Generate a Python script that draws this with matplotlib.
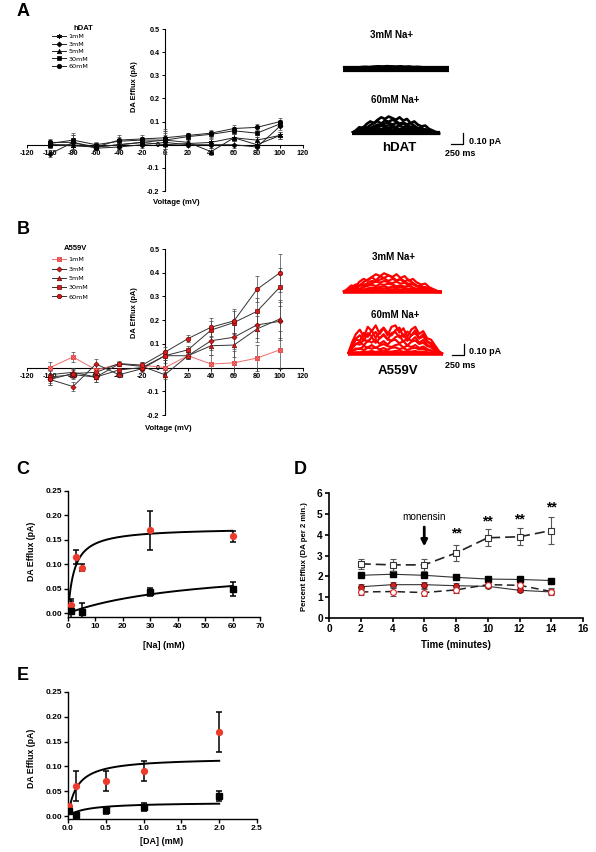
import numpy as np
import matplotlib.pyplot as plt
from matplotlib.lines import Line2D
from matplotlib.legend_handler import HandlerTuple

plt.rcParams['font.family'] = ['Liberation Sans', 'DejaVu Sans']

W, H = 596, 852

# ---- A / B : I-V relations (DA efflux vs voltage)
voltage = [-100, -80, -60, -40, -20, 0, 20, 40, 60, 80, 100]
na_labels = ['1mM', '3mM', '5mM', '30mM', '60mM']

hdat_1 = [0.0, -0.005, -0.01, 0.0, 0.01, 0.0, 0.005, 0.01, 0.03, 0.0, 0.04]
hdat_3 = [-0.04, 0.01, -0.015, -0.01, 0.0, 0.01, 0.0, 0.0, 0.0, -0.01, 0.08]
hdat_5 = [0.0, 0.0, -0.01, 0.0, 0.01, 0.02, 0.01, -0.03, 0.03, 0.02, 0.04]
hdat_30 = [0.005, 0.02, 0.0, 0.015, 0.02, 0.02, 0.035, 0.045, 0.06, 0.05, 0.09]
hdat_60 = [0.01, 0.01, -0.01, 0.02, 0.025, 0.03, 0.04, 0.05, 0.07, 0.075, 0.10]
hdat_err = [0.015, 0.03, 0.01, 0.02, 0.015, 0.04, 0.01, 0.015, 0.015, 0.015, 0.015]

a559v_1 = [0.0, 0.045, -0.01, 0.015, 0.01, 0.0, 0.05, 0.015, 0.02, 0.04, 0.075]
a559v_3 = [-0.05, -0.08, 0.015, -0.03, -0.005, 0.05, 0.05, 0.113, 0.128, 0.18, 0.195]
a559v_5 = [-0.03, -0.02, -0.04, 0.015, 0.005, -0.03, 0.05, 0.092, 0.095, 0.163, 0.205]
a559v_30 = [-0.04, -0.03, -0.04, -0.01, 0.0, 0.05, 0.075, 0.158, 0.19, 0.237, 0.34]
a559v_60 = [-0.05, -0.025, -0.02, 0.017, 0.01, 0.065, 0.122, 0.17, 0.197, 0.33, 0.40]
a559v_err = [0.025, 0.02, 0.02, 0.01, 0.015, 0.02, 0.015, 0.04, 0.05, 0.055, 0.08]

# ---- C : efflux vs [Na]
na_conc = [1, 3, 5, 30, 60]
na_red = [0.017, 0.115, 0.093, 0.17, 0.157]
na_red_err = [0.012, 0.015, 0.007, 0.04, 0.012]
na_conc_k = [1, 5, 30, 60]
na_black = [0.005, 0.003, 0.044, 0.05]
na_black_err = [0.02, 0.017, 0.008, 0.014]
na_fit_red = (0.175, 2.3)    # Vmax, Km
na_fit_black = (0.10, 48.0)

# ---- D : percent efflux vs time
time_min = [2, 4, 6, 8, 10, 12, 14]
open_sq = [2.6, 2.55, 2.55, 3.12, 3.85, 3.9, 4.2]
open_sq_err = [0.25, 0.3, 0.3, 0.4, 0.4, 0.4, 0.65]
fill_sq = [2.05, 2.1, 2.05, 1.95, 1.87, 1.85, 1.8]
fill_sq_err = [0.05, 0.05, 0.05, 0.05, 0.05, 0.05, 0.05]
red_fill = [1.5, 1.6, 1.6, 1.55, 1.52, 1.33, 1.25]
red_fill_err = [0.15, 0.15, 0.15, 0.15, 0.1, 0.1, 0.12]
red_open = [1.25, 1.27, 1.22, 1.35, 1.6, 1.57, 1.27]
red_open_err = [0.15, 0.2, 0.15, 0.15, 0.1, 0.1, 0.15]
star_t = [8, 10, 12, 14]
star_y = [4.08, 4.65, 4.75, 5.3]

# ---- E : efflux vs [DA]
da_conc = [0.01, 0.1, 0.5, 1.0, 2.0]
da_red = [0.02, 0.06, 0.07, 0.09, 0.17]
da_red_err = [0.004, 0.03, 0.02, 0.02, 0.04]
da_black = [0.01, 0.003, 0.012, 0.018, 0.04]
da_black_err = [0.004, 0.002, 0.007, 0.008, 0.01]
da_fit_red = (0.118, 0.12)
da_fit_black = (0.028, 0.25)

# ---- current traces (normalised sweep shapes + sweep amplitudes in pA)
prof1 = [0, .15, .35, .3, .55, .7, .6, .8, .95, .85, 1.0, .9, .8, .95, .75, .85, .6, .7, .5, .4, .45, .25, .15, .05, 0]
prof2 = [0, .1, .2, .45, .4, .6, .75, .9, .7, .95, .85, 1.0, .9, .7, .8, .65, .75, .55, .35, .4, .2, .25, .1, 0, 0]
prof3 = [0, .05, .3, .25, .5, .45, .65, .8, .75, .9, 1.0, .8, .95, .85, .9, .7, .6, .65, .45, .3, .35, .15, .1, .05, 0]
prof_box = [0, .4, .7, .85, .6, .95, .8, 1.0, .7, .9, .65, .95, 1.0, .75, .9, .6, .85, .95, .7, .8, .55, .5, .3, .1, 0]
prof_box2 = [0, .3, .55, .5, .8, .65, .9, .6, .85, 1.0, .8, .7, .9, 1.0, .65, .85, .7, .9, .6, .75, .5, .35, .2, .05, 0]
hdat_3na_amps = [0.02, 0.012, -0.01, 0.0, 0.006, -0.005]
hdat_60na_amps = [0.15, 0.12, 0.095, 0.07, 0.05, 0.03, 0.015, 0.0]
a559v_3na_amps = [0.17, 0.15, 0.125, 0.1, 0.075, 0.05, 0.03, 0.01, 0.0]
a559v_60na_amps = [0.26, 0.24, 0.2, 0.17, 0.13, 0.09, 0.06, 0.03, 0.01, 0.0]

fig = plt.figure(figsize=(W / 100, H / 100), dpi=100)


def px_axes(x0, y0, x1, y1):
    return fig.add_axes([x0 / W, 1 - y1 / H, (x1 - x0) / W, (y1 - y0) / H])


def px_text(x, y, s, **kw):
    kw.setdefault('ha', 'center')
    kw.setdefault('va', 'center')
    fig.text(x / W, 1 - y / H, s, **kw)


# ================= A and B =================
def iv_panel(top, bottom, series, err, red):
    ax = px_axes(27, top, 303, bottom)
    ax.set_xlim(-120, 120)
    ax.set_ylim(-0.2, 0.5)
    for s in ['top', 'right']:
        ax.spines[s].set_visible(False)
    for s in ['left', 'bottom']:
        ax.spines[s].set_position(('data', 0))
        ax.spines[s].set_linewidth(0.8)
    ax.set_xticks(range(-120, 121, 20))
    ax.set_xticklabels([str(v) for v in range(-120, 121, 20)])
    yt = [-0.2, -0.1, 0, 0.1, 0.2, 0.3, 0.4, 0.5]
    ax.set_yticks(yt)
    ax.set_yticklabels(['-0.2', '-0.1', '0', '0.1', '0.2', '0.3', '0.4', '0.5'])
    ax.tick_params(labelsize=5.2, length=2.5, width=0.7, pad=1.5)
    for lab in ax.get_xticklabels() + ax.get_yticklabels():
        lab.set_fontweight('bold')
    markers = [(6, 2, 0), 'D', '^', 's', 'o']
    sizes = [3.5, 2.6, 3.2, 3.0, 3.2]
    handles = []
    for i, vals in enumerate(series):
        if red:
            if i == 0:
                lc, mfc, mec = '#f06a6a', '#ffb0b0', '#e03030'
                mk = 's'
            else:
                lc, mfc, mec = '#333333', '#d41c1c', '#7a0000'
                mk = markers[i]
        else:
            lc, mfc, mec = '#222222', 'black', 'black'
            mk = markers[i]
        ax.errorbar(voltage, vals, yerr=err, color=lc, lw=0.7, ecolor='#444444',
                    elinewidth=0.5, capsize=1.5, capthick=0.5, marker=mk,
                    ms=sizes[i], mfc=mfc, mec=mec, mew=0.5, zorder=3)
        h = Line2D([], [], color=lc, lw=0.7, marker=mk, ms=sizes[i], mfc=mfc, mec=mec, mew=0.5)
        if red and i == 0:
            ax.plot(voltage, vals, ls='none', marker='x', ms=2.5, mec='#e03030', mew=0.6, zorder=4)
            h = (h, Line2D([], [], ls='none', marker='x', ms=2.5, mec='#e03030', mew=0.6))
        handles.append(h)
    return ax, handles


axA, hA = iv_panel(29, 191, [hdat_1, hdat_3, hdat_5, hdat_30, hdat_60], hdat_err, False)
axB, hB = iv_panel(249, 415, [a559v_1, a559v_3, a559v_5, a559v_30, a559v_60], a559v_err, True)

for ax, handles, y0, sp in [(axA, hA, 34, 0.3), (axB, hB, 257, 0.6)]:
    fig.legend(handles, na_labels, loc='upper left', bbox_to_anchor=(52 / W, 1 - y0 / H),
               frameon=False, handlelength=2.2, handletextpad=0.4,
               labelspacing=sp, borderpad=0, borderaxespad=0,
               prop={'family': 'DejaVu Sans', 'size': 4.6},
               handler_map={tuple: HandlerTuple(ndivide=1)})

px_text(83, 29, 'hDAT', fontsize=5.5, fontweight='bold')
px_text(76, 249, 'A559V', fontsize=5.5, fontweight='bold')
px_text(135, 87, 'DA Efflux (pA)', rotation=90, fontsize=5.4, fontweight='bold')
px_text(135, 313, 'DA Efflux (pA)', rotation=90, fontsize=5.4, fontweight='bold')
px_text(176, 202, 'Voltage (mV)', fontsize=5.6, fontweight='bold')
px_text(168, 428, 'Voltage (mV)', fontsize=5.6, fontweight='bold')

# ---- traces
PX_MS = 0.047
PX_PA = 110.0


def trace_axes(x0, base, top, bottom, left=330, right=510):
    ax = px_axes(left, top, right, bottom)
    ax.set_xlim((left - x0) / PX_MS, (right - x0) / PX_MS)
    ax.set_ylim((base - bottom) / PX_PA, (base - top) / PX_PA)
    ax.axis('off')
    return ax


def draw_sweeps(ax, amps, profiles, dur, color, lw):
    for i, a in enumerate(amps):
        p = np.array(profiles[i % len(profiles)])
        t = np.linspace(0, dur, len(p))
        ax.plot(t, a * p, color=color, lw=lw, solid_joinstyle='round',
                solid_capstyle='butt')
    ax.plot([0, dur], [0, 0], color=color, lw=lw * 1.6, solid_capstyle='butt')


def scale_bar(ax, x_ms, y_pa, color='black'):
    ax.plot([x_ms - 250, x_ms, x_ms], [y_pa, y_pa, y_pa + 0.10], color=color, lw=0.9)


ta1 = trace_axes(343, 69, 50, 85)
draw_sweeps(ta1, hdat_3na_amps, [prof1, prof2, prof3], 2250, 'black', 2.8)
ta2 = trace_axes(352, 133, 105, 150)
draw_sweeps(ta2, hdat_60na_amps, [prof1, prof2, prof3], 1870, 'black', 1.9)
scale_bar(ta2, (463 - 352) / PX_MS, (133 - 144) / PX_PA)

tb1 = trace_axes(343, 292, 265, 300)
draw_sweeps(tb1, a559v_3na_amps, [prof1, prof2, prof3], 2100, 'red', 1.6)
tb2 = trace_axes(348, 354, 320, 362)
draw_sweeps(tb2, a559v_60na_amps, [prof_box, prof_box2], 2020, 'red', 1.6)
scale_bar(tb2, (464 - 348) / PX_MS, (354 - 355) / PX_PA)

px_text(391, 35, '3mM Na+', fontsize=7, fontweight='bold')
px_text(395, 100, '60mM Na+', fontsize=7, fontweight='bold')
px_text(399, 148, 'hDAT', fontsize=9.5, fontweight='bold')
px_text(469, 141, '0.10 pA', fontsize=6.5, fontweight='bold', ha='left')
px_text(445, 153, '250 ms', fontsize=6.5, fontweight='bold', ha='left')
px_text(393, 257, '3mM Na+', fontsize=7, fontweight='bold')
px_text(395, 315, '60mM Na+', fontsize=7, fontweight='bold')
px_text(398, 371, 'A559V', fontsize=9.5, fontweight='bold')
px_text(469, 352, '0.10 pA', fontsize=6.5, fontweight='bold', ha='left')
px_text(445, 366, '250 ms', fontsize=6.5, fontweight='bold', ha='left')


# ================= Prism style panels =================
def prism(ax, lw=1.0):
    for s in ['top', 'right']:
        ax.spines[s].set_visible(False)
    for s in ['left', 'bottom']:
        ax.spines[s].set_linewidth(lw)
    ax.tick_params(width=lw, length=3, pad=1.5)


def mm(x, p):
    return p[0] * x / (p[1] + x)


# C
axC = px_axes(68, 491, 260, 617)
prism(axC)
axC.set_xlim(0, 70)
axC.set_ylim(-0.008, 0.25)
axC.set_xticks(range(0, 71, 10))
axC.set_yticks([0, 0.05, 0.10, 0.15, 0.20, 0.25])
axC.set_yticklabels(['0.00', '0.05', '0.10', '0.15', '0.20', '0.25'])
axC.tick_params(labelsize=6)
xr = np.linspace(0.45, 60, 300)
axC.plot(xr, mm(xr, na_fit_red), color='black', lw=1.4)
xk = np.linspace(0, 60, 300)
axC.plot(xk, mm(xk, na_fit_black), color='black', lw=1.4)
axC.errorbar(na_conc, na_red, yerr=na_red_err, fmt='o', ms=4.2, mfc='#ea3b2c', mec='#ea3b2c',
             ecolor='black', elinewidth=1.1, capsize=2.5, capthick=1.1, zorder=3)
axC.errorbar(na_conc_k, na_black, yerr=na_black_err, fmt='s', ms=4, mfc='black', mec='black',
             ecolor='black', elinewidth=1.1, capsize=2.5, capthick=1.1, zorder=3)

# E
axE = px_axes(68, 692, 257, 819)
prism(axE)
axE.set_xlim(0, 2.5)
axE.set_ylim(-0.006, 0.25)
axE.set_xticks([0, 0.5, 1.0, 1.5, 2.0, 2.5])
axE.set_xticklabels(['0.0', '0.5', '1.0', '1.5', '2.0', '2.5'])
axE.set_yticks([0, 0.05, 0.10, 0.15, 0.20, 0.25])
axE.set_yticklabels(['0.00', '0.05', '0.10', '0.15', '0.20', '0.25'])
axE.tick_params(labelsize=6)
xr = np.linspace(0.02, 2.0, 300)
axE.plot(xr, mm(xr, da_fit_red), color='black', lw=1.4)
xk = np.linspace(0.06, 2.0, 300)
axE.plot(xk, mm(xk, da_fit_black), color='black', lw=1.4)
axE.errorbar(da_conc, da_red, yerr=da_red_err, fmt='o', ms=4.2, mfc='#ea3b2c', mec='#ea3b2c',
             ecolor='black', elinewidth=1.1, capsize=2.5, capthick=1.1, zorder=3)
axE.errorbar(da_conc, da_black, yerr=da_black_err, fmt='s', ms=4, mfc='black', mec='black',
             ecolor='black', elinewidth=1.1, capsize=2.5, capthick=1.1, zorder=3)

for ax in (axC, axE):
    for lab in ax.get_xticklabels() + ax.get_yticklabels():
        lab.set_fontweight('bold')

# D
axD = px_axes(329, 493, 583, 618)
prism(axD, lw=1.2)
axD.set_xlim(0, 16)
axD.set_ylim(0, 6)
axD.set_xticks(range(0, 17, 2))
axD.set_yticks(range(0, 7))
axD.tick_params(labelsize=7.3)
for lab in axD.get_xticklabels() + axD.get_yticklabels():
    lab.set_fontweight('bold')
ekw = dict(ecolor='#555555', elinewidth=0.8, capsize=2, capthick=0.8)
axD.errorbar(time_min, fill_sq, yerr=fill_sq_err, color='#333333', lw=0.8, marker='s',
             ms=4.5, mfc='black', mec='black', zorder=3, **ekw)
axD.errorbar(time_min, red_fill, yerr=red_fill_err, color='#333333', lw=0.8, marker='o',
             ms=4.2, mfc='#d42020', mec='#600000', mew=0.6, zorder=3, **ekw)
axD.errorbar(time_min, red_open, yerr=red_open_err, color='#222222', lw=1.1, ls=(0, (5, 3)),
             marker='o', ms=4.2, mfc='white', mec='#e02020', mew=0.8, zorder=4, **ekw)
axD.errorbar(time_min, open_sq, yerr=open_sq_err, color='#222222', lw=1.2, ls=(0, (6, 3)),
             marker='s', ms=5, mfc='white', mec='#333333', mew=0.8, zorder=4, **ekw)
for t, y in zip(star_t, star_y):
    axD.text(t, y, '**', ha='center', va='center', fontsize=10, fontweight='bold')
axD.text(6, 4.85, 'monensin', ha='center', va='center', fontsize=7.2)
axD.annotate('', xy=(6, 3.3), xytext=(6, 4.5),
             arrowprops=dict(arrowstyle='-|>', lw=2.0, color='black', mutation_scale=9))

px_text(32, 551, 'DA Efflux (pA)', rotation=90, fontsize=6.3, fontweight='bold')
px_text(164, 646, '[Na] (mM)', fontsize=6.5, fontweight='bold')
px_text(32, 758, 'DA Efflux (pA)', rotation=90, fontsize=6.3, fontweight='bold')
px_text(162, 841, '[DA] (mM)', fontsize=6.5, fontweight='bold')
px_text(305, 557, 'Percent Efflux (DA per 2 min.)', rotation=90, fontsize=5.6, fontweight='bold')
px_text(456, 645, 'Time (minutes)', fontsize=7, fontweight='bold')

# panel letters
for x, y, s in [(23, 12, 'A'), (23, 229, 'B'), (23, 470, 'C'), (300, 470, 'D'), (23, 675, 'E')]:
    px_text(x, y, s, fontsize=13, fontweight='bold')

fig.savefig('out.png', dpi=100)
